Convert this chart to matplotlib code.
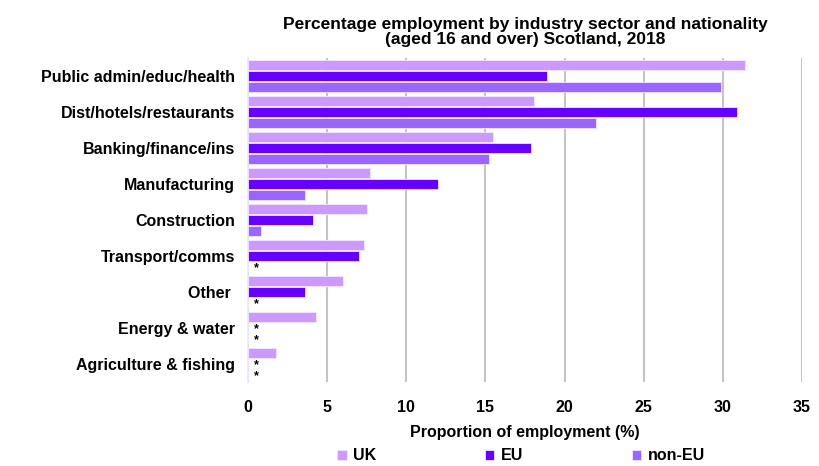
import matplotlib
matplotlib.use("Agg")
import matplotlib.pyplot as plt
import numpy as np

categories = ["Public admin/educ/health", "Dist/hotels/restaurants", "Banking/finance/ins",
              "Manufacturing", "Construction", "Transport/comms", "Other ",
              "Energy & water", "Agriculture & fishing"]
uk = [31.4, 18.1, 15.5, 7.7, 7.5, 7.3, 6.0, 4.3, 1.8]
eu = [18.9, 30.9, 17.9, 12.0, 4.1, 7.0, 3.6, None, None]
non_eu = [29.9, 22.0, 15.2, 3.6, 0.8, None, None, None, None]
series_names = ["UK", "EU", "non-EU"]
colors = ["#CC99FF", "#6600FF", "#9966FF"]
xticks = [0, 5, 10, 15, 20, 25, 30, 35]

plt.rcParams['font.family'] = ['Liberation Sans', 'DejaVu Sans']
plt.rcParams['font.weight'] = 'bold'

fig = plt.figure(figsize=(8.19, 4.66), dpi=100)
ax = fig.add_axes([248/819, 1-382/466, (802-248)/819, (382-58)/466])

y = np.arange(len(categories))
h = 0.3
offsets = [-h, 0, h]
for vals, off, c, name in zip([uk, eu, non_eu], offsets, colors, series_names):
    for i, v in enumerate(vals):
        if v is None:
            ax.text(0.5, y[i] + off + 0.04, "*", ha="center", va="center", fontsize=9,
                    fontweight="bold", color="black")
    vv = [v if v is not None else 0 for v in vals]
    ax.barh(y + off, vv, height=h*0.95, color=c, edgecolor="#F2E6FF", linewidth=0.6,
            label=name, zorder=3)

ax.set_xlim(0, 35)
ax.set_ylim(len(categories) - 0.5, -0.5)
ax.set_yticks(y)
ax.set_yticklabels(categories, fontsize=11.5, fontweight="bold")
ax.set_xticks(xticks)
ax.set_xticklabels([str(t) for t in xticks], fontsize=11.5, fontweight="bold")
ax.tick_params(axis="y", length=0, pad=9.5)
ax.tick_params(axis="x", length=0, pad=13)
ax.grid(axis="x", color="#C4C4C4", linewidth=1.5, zorder=0)
ax.set_axisbelow(True)
for s in ["top", "right", "bottom"]:
    ax.spines[s].set_visible(False)
ax.spines["left"].set_color("#DDEBF7")
ax.spines["left"].set_linewidth(1.2)

ax.set_xlabel("Proportion of employment (%)", fontsize=11.5, fontweight="bold", labelpad=7)
ax.set_title("Percentage employment by industry sector and nationality\n(aged 16 and over) Scotland, 2018",
             fontsize=12.5, fontweight="bold", pad=10, linespacing=1.0)

handles, labels = ax.get_legend_handles_labels()
fig.legend(handles, labels, loc="center", bbox_to_anchor=(521/819, 1-456/466), ncol=3,
           frameon=False, handlelength=0.6, handleheight=0.6,
           handletextpad=0.4, columnspacing=6.8, prop={"weight": "bold", "size": 11.5})

fig.savefig("out.png", dpi=100)
